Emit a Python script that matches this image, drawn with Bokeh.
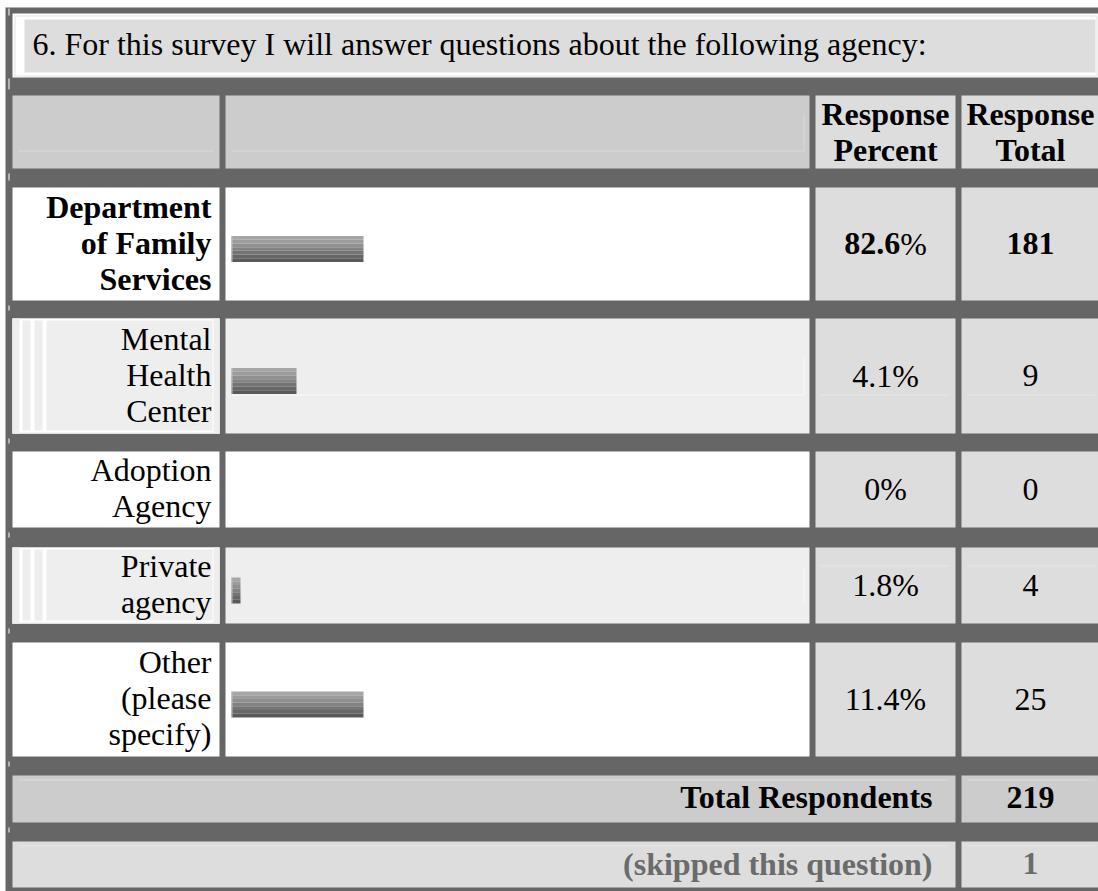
from bokeh.plotting import figure
from bokeh.embed import file_html
from bokeh.resources import INLINE
from bokeh.core.properties import value
from bokeh.models import Range1d

# ---------------- data ----------------
title_text = "6. For this survey I will answer questions about the following agency:"
header_percent = ["Response", "Percent"]
header_total = ["Response", "Total"]
categories = ["Department\nof Family\nServices", "Mental\nHealth\nCenter",
              "Adoption\nAgency", "Private\nagency", "Other\n(please\nspecify)"]
percents = [82.6, 4.1, 0, 1.8, 11.4]
totals = [181, 9, 0, 4, 25]
bar_lengths = [132, 65, 0, 9, 132]      # bar lengths as displayed in the picture
highlight = [True, False, False, False, False]
total_label = "Total Respondents"
total_respondents = 219
skipped_label = "(skipped this question)"
skipped_count = 1

# ---------------- layout ----------------
FONT = value("Liberation Serif")
FS = value("32px")
DARK = "#666666"
TDY = -12          # text baseline correction
row_top = [187, 318, 451, 547, 642]
row_bot = [300, 433, 527, 623, 756]
row_fill = ["#ffffff", "#eeeeee", "#ffffff", "#eeeeee", "#ffffff"]
C1 = (12, 219)
C2 = (225, 809)
C3 = (815, 955)
C4 = (961, 1098)
C3c = 885
C4c = 1030
LABEL_X = 211
LINE_H = 36
BAR_X0 = 231
BAR_H = 26
band_colors = ["#a6a6a6", "#9c9c9c", "#909090", "#828282", "#747474", "#676767", "#5a5a5a"]

p = figure(width=1098, height=891, x_range=Range1d(0, 1098), y_range=Range1d(891, 0),
           output_backend="svg", toolbar_location=None, min_border=0,
           x_axis_location=None, y_axis_location=None)
p.grid.visible = False
p.outline_line_color = None
p.background_fill_color = "white"
p.border_fill_color = "white"

Q = {"left": [], "right": [], "top": [], "bottom": [], "color": []}


def box(l, r, t, b, c):
    Q["left"].append(l); Q["right"].append(r)
    Q["top"].append(t); Q["bottom"].append(b); Q["color"].append(c)


# dark background
box(5, 1098, 7, 891, DARK)
# title box
box(12, 1098, 13, 77, "#ffffff")
box(14, 1097, 15, 76, "#e2e2e2")
box(15, 1096, 16, 75, "#ffffff")
box(24, 1095, 19, 72, "#dddddd")

# header
box(C1[0], C1[1], 95, 168, "#cccccc")
box(C2[0], C2[1], 95, 168, "#cccccc")
box(C3[0], C3[1], 95, 168, "#dddddd")
box(C4[0], C4[1], 95, 168, "#dddddd")
box(18, 213, 150, 151, "#d9d9d9")
box(231, 803, 150, 151, "#d9d9d9")
box(803, 804, 113, 151, "#d9d9d9")

# answer rows
for i in range(len(categories)):
    t, b = row_top[i], row_bot[i]
    box(C1[0], C1[1], t, b, row_fill[i])
    box(C2[0], C2[1], t, b, row_fill[i])
    box(C3[0], C3[1], t, b, "#dddddd")
    box(C4[0], C4[1], t, b, "#dddddd")
    if row_fill[i] != "#ffffff":
        # nested inset borders of the label cell
        box(C1[0], C1[1], t, b, "#ffffff")
        box(12, 19, t, b, row_fill[i])
        for l, r in [(22, 30), (34, 42), (46, 212)]:
            box(l, r, t + 2, b - 3, row_fill[i])
        box(213, 219, t, b, row_fill[i])
        box(12, 219, b - 1, b, row_fill[i])

# faint nested-table lines
box(231, 803, 394, 395, "#f7f7f7")
box(803, 804, 357, 395, "#f7f7f7")
box(820, 949, 394, 395, "#e7e7e7")
box(967, 1095, 394, 395, "#e7e7e7")
box(803, 804, 566, 603, "#f7f7f7")
box(820, 949, 565, 566, "#e7e7e7")
box(967, 1095, 565, 566, "#e7e7e7")

# totals rows
box(12, 955, 775, 822, "#cccccc")
box(C4[0], C4[1], 775, 822, "#cccccc")
box(18, 948, 779, 780, "#dadada")
box(967, 1095, 779, 780, "#dadada")
box(12, 955, 841, 887, "#dddddd")
box(C4[0], C4[1], 841, 887, "#dddddd")
box(18, 948, 845, 846, "#e8e8e8")
box(967, 1095, 845, 846, "#e8e8e8")

# small white ticks on the left border
for t0, t1 in [(8, 15), (78, 89), (173, 180), (305, 310), (438, 443),
               (532, 537), (628, 633), (761, 766), (827, 832)]:
    box(8, 9, t0, t1, "#ffffff")

p.quad(left="left", right="right", top="top", bottom="bottom", color="color",
       line_color=None, source=Q)

# bars (gradient bands)
B = {"left": [], "right": [], "top": [], "bottom": [], "color": []}
nb = len(band_colors)
for i, L in enumerate(bar_lengths):
    if L <= 0:
        continue
    c = (row_top[i] + row_bot[i]) / 2 + 5
    bt = c - BAR_H / 2
    for k in range(nb):
        B["left"].append(BAR_X0)
        B["right"].append(BAR_X0 + L)
        B["top"].append(bt + k * BAR_H / nb)
        B["bottom"].append(bt + (k + 1) * BAR_H / nb)
        B["color"].append(band_colors[k])
    B["left"].append(BAR_X0)
    B["right"].append(BAR_X0 + 1)
    B["top"].append(bt)
    B["bottom"].append(bt + BAR_H)
    B["color"].append("#bdbdbd")
p.quad(left="left", right="right", top="top", bottom="bottom", color="color",
       line_color=None, source=B)


def txt(xs, ys, texts, align, bold, color="#000000"):
    p.text(x=xs, y=[y + TDY for y in ys], text=texts, text_font=FONT, text_font_size=FS,
           text_font_style="bold" if bold else "normal", text_align=align,
           text_baseline="alphabetic", text_color=color)


# title
txt([32], [55], [title_text], "left", False)
# headers
for k, s in enumerate(header_percent):
    txt([C3c], [125.5 + k * LINE_H], [s], "center", True)
for k, s in enumerate(header_total):
    txt([C4c], [125.5 + k * LINE_H], [s], "center", True)


def em_width(s, bold):
    w = 0.0
    for ch in s:
        if ch.isdigit():
            w += 0.5
        elif ch == ".":
            w += 0.25
        elif ch == "%":
            w += 1.0 if bold else 0.833
    return w * 32


for i, cat in enumerate(categories):
    c = (row_top[i] + row_bot[i]) / 2
    lines = cat.split("\n")
    n = len(lines)
    ys = [c + 10.5 + (k - (n - 1) / 2) * LINE_H for k in range(n)]
    txt([LABEL_X] * n, ys, lines, "right", highlight[i])
    num = f"{percents[i]:g}"
    yb = c + 11.5
    if highlight[i]:
        wn = em_width(num, True)
        wp = em_width("%", False)
        split = C3c - (wn + wp) / 2 + wn
        txt([split], [yb], [num], "right", True)
        txt([split], [yb], ["%"], "left", False)
    else:
        txt([C3c], [yb], [num + "%"], "center", False)
    txt([C4c], [yb], [str(totals[i])], "center", highlight[i])

txt([932], [808.5], [total_label], "right", True)
txt([C4c], [808.5], [str(total_respondents)], "center", True)
txt([932], [875], [skipped_label], "right", True, "#6b6b6b")
txt([C4c], [875], [str(skipped_count)], "center", True, "#6b6b6b")

open("out.html", "w").write(file_html(p, INLINE))
